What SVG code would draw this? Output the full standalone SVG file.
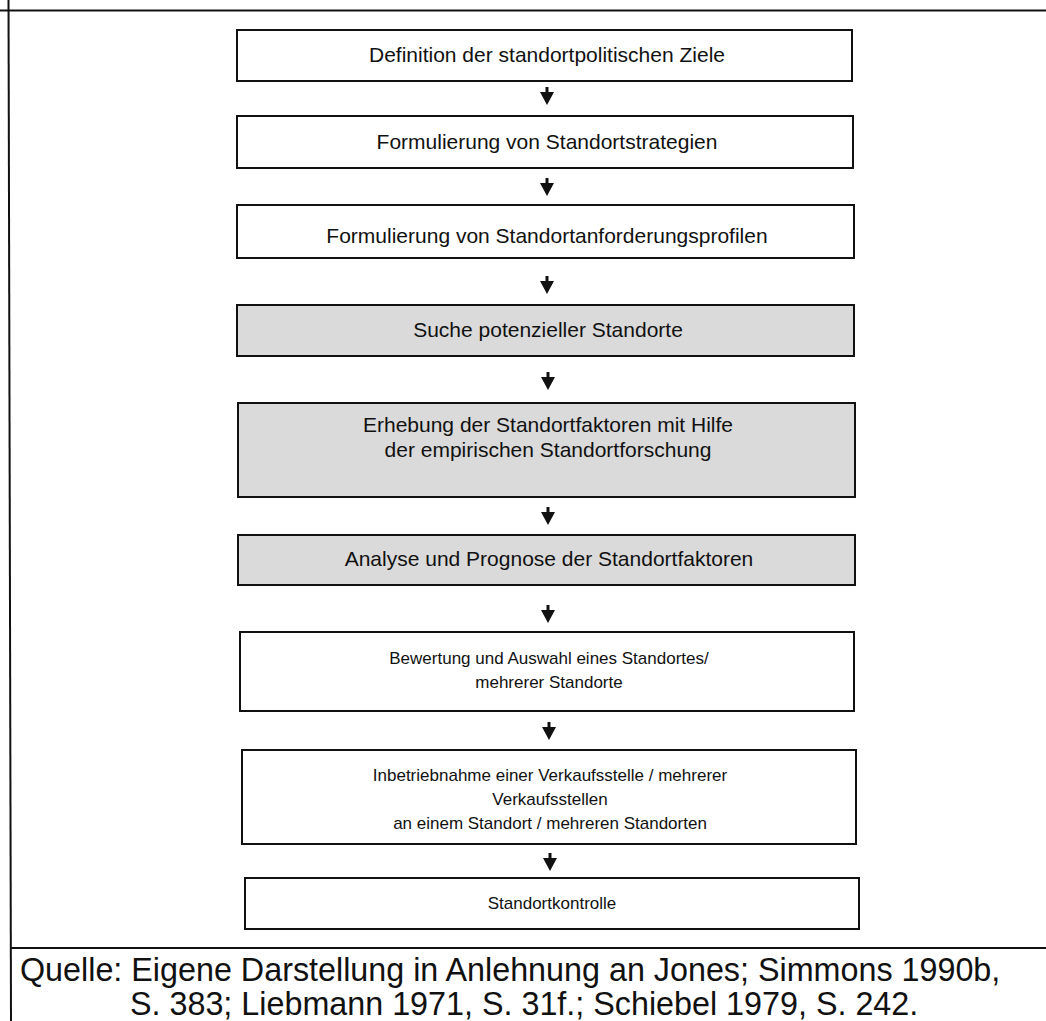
<svg xmlns="http://www.w3.org/2000/svg" width="1046" height="1021" viewBox="0 0 1046 1021">
  <defs>
    <style>
      .box { fill: #ffffff; stroke: #111111; stroke-width: 2; }
      .box.shade { fill: #dadada; }
      .lbl { font-family: "Liberation Sans", Arial, sans-serif; font-size: 21px; fill: #111111; text-anchor: middle; }
      .lbl.sm { font-size: 17px; }
      .cap { font-family: "Liberation Sans", Arial, sans-serif; font-size: 32.3px; fill: #111111; }
      .frame { stroke: #111111; stroke-width: 2; fill: none; }
      .arrow { fill: #111111; }
    </style>
    <g id="arr">
      <rect x="-1.5" y="-18" width="3" height="6"/>
      <path d="M -7 -13 L 7 -13 L 0 0 Z"/>
    </g>
  </defs>
  <rect width="1046" height="1021" fill="#ffffff"/>

  <!-- outer frame -->
  <g id="frame">
    <line class="frame" x1="0" y1="10.5" x2="1046" y2="10.5"/>
    <line class="frame" x1="8.5" y1="0" x2="11" y2="1021"/>
    <line class="frame" x1="11" y1="948" x2="1046" y2="948"/>
  </g>

  <g id="n1">
    <rect class="box" x="237" y="30" width="615" height="51"/>
    <text class="lbl" x="547" y="62">Definition der standortpolitischen Ziele</text>
  </g>
  <g id="n2">
    <rect class="box" x="237" y="116" width="616" height="52"/>
    <text class="lbl" x="547" y="149">Formulierung von Standortstrategien</text>
  </g>
  <g id="n3">
    <rect class="box" x="237" y="205" width="617" height="53"/>
    <text class="lbl" x="547" y="243">Formulierung von Standortanforderungsprofilen</text>
  </g>
  <g id="n4">
    <rect class="box shade" x="237" y="305" width="617" height="51"/>
    <text class="lbl" x="548" y="337">Suche potenzieller Standorte</text>
  </g>
  <g id="n5">
    <rect class="box shade" x="238" y="403" width="617" height="94"/>
    <text class="lbl" x="548" y="432">Erhebung der Standortfaktoren mit Hilfe</text>
    <text class="lbl" x="548" y="457">der empirischen Standortforschung</text>
  </g>
  <g id="n6">
    <rect class="box shade" x="238" y="535" width="617" height="50"/>
    <text class="lbl" x="549" y="566">Analyse und Prognose der Standortfaktoren</text>
  </g>
  <g id="n7">
    <rect class="box" x="240" y="632" width="614" height="79"/>
    <text class="lbl sm" x="549" y="664">Bewertung und Auswahl eines Standortes/</text>
    <text class="lbl sm" x="549" y="688">mehrerer Standorte</text>
  </g>
  <g id="n8">
    <rect class="box" x="242" y="750" width="614" height="94"/>
    <text class="lbl sm" x="550" y="781">Inbetriebnahme einer Verkaufsstelle / mehrerer</text>
    <text class="lbl sm" x="550" y="805">Verkaufsstellen</text>
    <text class="lbl sm" x="550" y="829">an einem Standort / mehreren Standorten</text>
  </g>
  <g id="n9">
    <rect class="box" x="245" y="878" width="614" height="51"/>
    <text class="lbl sm" x="552" y="909">Standortkontrolle</text>
  </g>

  <!-- connectors between consecutive steps -->
  <g id="connectors" class="arrow">
    <use href="#arr" x="547" y="105"/>
    <use href="#arr" x="547" y="196"/>
    <use href="#arr" x="547" y="294"/>
    <use href="#arr" x="548" y="390"/>
    <use href="#arr" x="548" y="525"/>
    <use href="#arr" x="548" y="623"/>
    <use href="#arr" x="549" y="740"/>
    <use href="#arr" x="550" y="871"/>
  </g>

  <g id="source">
    <text class="cap" x="20" y="981">Quelle: Eigene Darstellung in Anlehnung an Jones; Simmons 1990b,</text>
    <text class="cap" x="130" y="1015">S. 383; Liebmann 1971, S. 31f.; Schiebel 1979, S. 242.</text>
  </g>
</svg>
